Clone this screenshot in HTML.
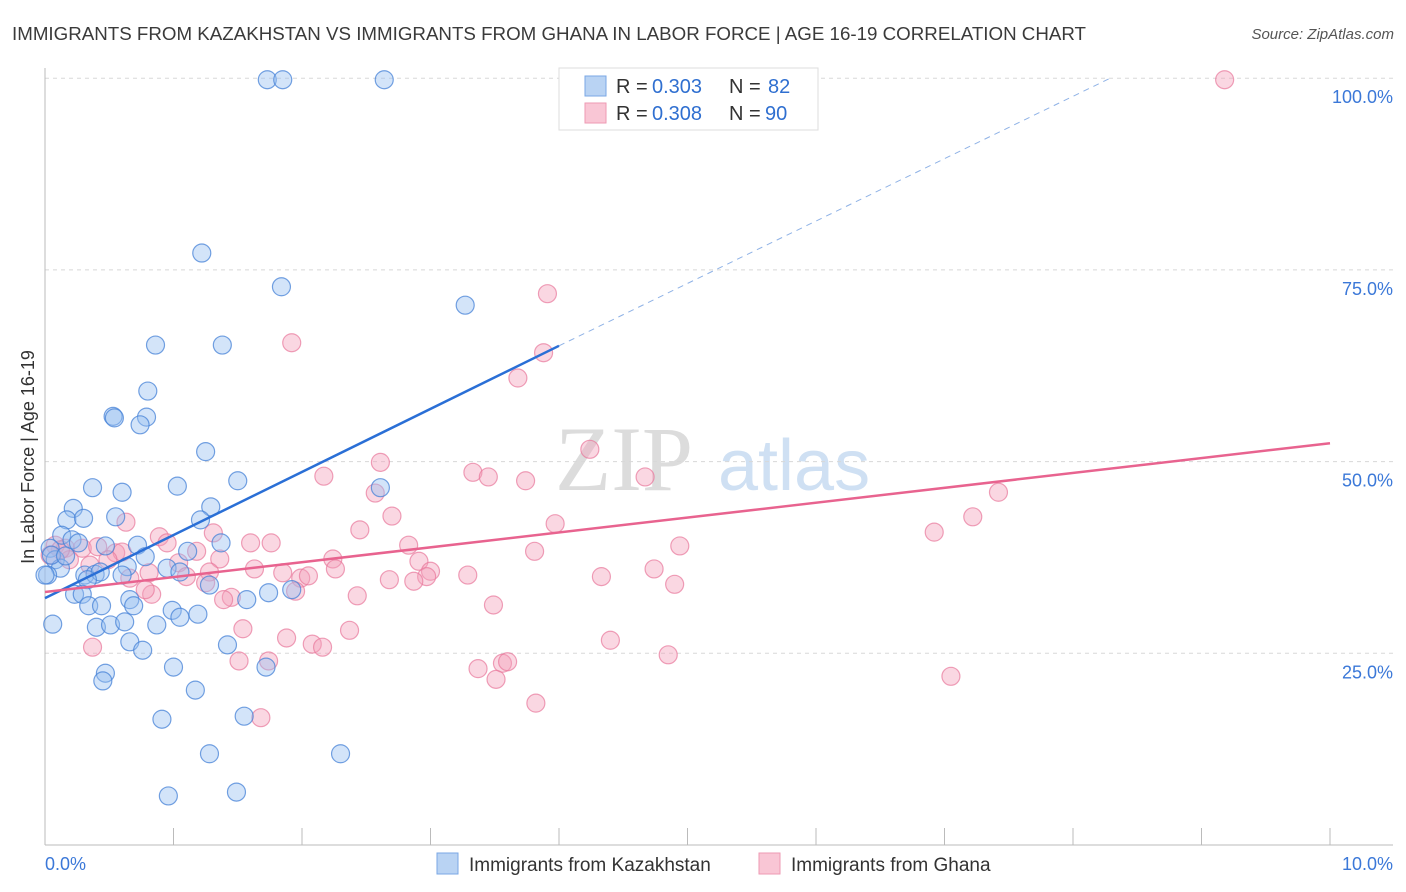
<!DOCTYPE html>
<html><head><meta charset="utf-8"><style>
body{margin:0;background:#fff;font-family:"Liberation Sans",sans-serif;}
svg{display:block}
</style></head><body>
<svg id="chart" width="1406" height="892" viewBox="0 0 1406 892" xmlns="http://www.w3.org/2000/svg" font-family="Liberation Sans, sans-serif">
<text x="12" y="40" font-size="18" fill="#3a3a3a" textLength="1074" lengthAdjust="spacingAndGlyphs">IMMIGRANTS FROM KAZAKHSTAN VS IMMIGRANTS FROM GHANA IN LABOR FORCE | AGE 16-19 CORRELATION CHART</text>
<text x="1394" y="39" font-size="15" fill="#555" text-anchor="end" font-style="italic">Source: ZipAtlas.com</text>
<g>
<text x="555" y="490" font-size="92" fill="#dcdcdc" font-family="Liberation Serif, serif">ZIP</text>
<text x="718" y="490" font-size="72" fill="#cfe0f3">atlas</text>
</g>
<g id="grid"></g>
<g id="axes"></g>
<g id="pts"></g>
<g id="trend"></g>
<g>
<rect x="559" y="68" width="259" height="62" fill="#fff" stroke="#ddd"/>
<rect x="585" y="76" width="21" height="20" fill="#b9d3f3" stroke="#7aa7e4"/>
<rect x="585" y="103" width="21" height="20" fill="#f9c6d5" stroke="#ee9ab3"/>
<text x="616" y="93" font-size="20" fill="#333">R =</text>
<text x="652" y="93" font-size="20" fill="#2f6fd0">0.303</text>
<text x="729" y="93" font-size="20" fill="#333">N =</text>
<text x="768" y="93" font-size="20" fill="#2f6fd0">82</text>
<text x="616" y="120" font-size="20" fill="#333">R =</text>
<text x="652" y="120" font-size="20" fill="#2f6fd0">0.308</text>
<text x="729" y="120" font-size="20" fill="#333">N =</text>
<text x="765" y="120" font-size="20" fill="#2f6fd0">90</text>
</g>
<text transform="translate(34,457) rotate(-90)" font-size="18" fill="#333" text-anchor="middle">In Labor Force | Age 16-19</text>
<g>
<rect x="437" y="853" width="21" height="21" fill="#b9d3f3" stroke="#7aa7e4"/>
<text x="469" y="871" font-size="19" fill="#333">Immigrants from Kazakhstan</text>
<rect x="759" y="853" width="21" height="21" fill="#f9c6d5" stroke="#ee9ab3"/>
<text x="791" y="871" font-size="19" fill="#333">Immigrants from Ghana</text>
</g>
</svg>
<script>
const blueX=[1.73,1.85,2.64,1.22,1.84,3.27,0.86,1.38,0.80,0.53,0.54,0.79,0.74,1.25,1.50,1.03,0.37,0.60,0.22,1.29,0.17,0.30,0.55,1.21,2.61,0.13,0.21,0.26,1.37,0.72,0.47,1.11,0.78,0.04,0.08,0.12,0.02,0.31,0.39,0.43,0.64,0.95,1.05,0.60,0.33,0.23,0.29,0.66,1.28,1.74,1.92,0.34,0.44,0.69,0.99,1.19,1.57,1.05,0.87,0.40,0.51,0.62,0.06,0.66,0.76,1.42,1.72,1.00,0.47,0.45,1.17,0.91,1.55,1.28,2.30,0.96,1.49,0.00,0.05,0.16];
const blueY=[99.8,99.8,99.8,77.2,72.8,70.4,65.2,65.2,59.2,55.9,55.7,55.8,54.8,51.3,47.5,46.8,46.6,46.0,43.9,44.1,42.4,42.6,42.8,42.4,46.6,40.4,39.8,39.4,39.4,39.1,39.0,38.3,37.6,38.7,37.2,36.1,35.2,35.2,35.3,35.6,36.3,36.1,35.6,35.2,34.6,32.7,32.7,32.0,33.9,32.9,33.3,31.2,31.2,31.2,30.6,30.1,32.0,29.7,28.7,28.4,28.7,29.1,28.8,26.5,25.4,26.1,23.2,23.2,22.4,21.4,20.2,16.4,16.8,11.9,11.9,6.4,6.9,35.2,37.8,37.7];
const pinkX=[9.18,3.91,1.92,3.88,3.68,4.24,2.61,2.17,3.33,3.45,4.67,3.74,2.57,7.42,2.70,7.22,3.97,6.92,2.45,0.63,1.31,0.89,1.60,1.76,0.95,2.83,4.94,3.81,1.18,0.08,0.16,0.29,0.41,0.55,0.60,2.24,1.36,1.04,0.81,0.66,1.63,1.85,2.26,2.91,3.00,4.74,1.99,2.05,1.10,1.28,2.97,3.29,4.33,2.87,4.90,1.95,2.43,1.45,0.83,3.49,1.39,1.25,1.54,2.37,1.88,2.08,2.16,4.40,4.85,1.74,1.51,3.37,3.56,3.60,3.51,7.05,3.82,1.68,0.37,0.35,0.19,0.12,0.04,0.49,0.78,2.68];
const pinkY=[99.8,71.9,65.5,64.2,60.9,51.6,49.9,48.1,48.6,48.0,48.0,47.5,45.9,46.0,42.9,42.8,41.9,40.8,41.1,42.1,40.7,40.2,39.4,39.4,39.4,39.1,39.0,38.3,38.3,39.1,38.7,38.7,38.9,38.1,38.2,37.3,37.3,36.8,35.5,34.8,36.0,35.5,36.0,37.0,35.7,36.0,34.8,35.1,35.0,35.6,35.0,35.2,35.0,34.4,34.0,33.1,32.5,32.3,32.7,31.3,32.0,34.2,28.2,28.0,27.0,26.2,25.8,26.7,24.8,24.0,24.0,23.0,23.7,23.9,21.6,22.0,18.5,16.6,25.8,36.5,37.2,38.5,37.8,37.2,33.3,34.6];
const yTicks=[25,50,75,100];
const yTickLabels=["25.0%","50.0%","75.0%","100.0%"];
const xTicks=[0,1,2,3,4,5,6,7,8,9,10];
const blueTrend=[[0,32.2],[4.0,65.1],[8.29,100]];
const pinkTrend=[[0,33.0],[10,52.4]];
const NS="http://www.w3.org/2000/svg";
const X=v=>45+v*128.5, Y=v=>845-v*7.668;
function mk(t,a,p){const e=document.createElementNS(NS,t);for(const k in a)e.setAttribute(k,a[k]);document.getElementById(p).appendChild(e);return e;}
yTicks.forEach((t,i)=>{
 const l=mk('line',{x1:45,x2:1393,y1:Y(t),y2:Y(t),stroke:'#d8d8d8','stroke-dasharray':'4,4'},'grid');
 
 
 const tx=mk('text',{x:1393,y:Y(t)+25,'font-size':18,fill:'#3b78d8','text-anchor':'end'},'grid');
 tx.textContent=yTickLabels[i];
 
 
});
let a=mk('line',{x1:45,x2:45,y1:68,y2:845,stroke:'#bbb'},'axes');


a=mk('line',{x1:45,x2:1393,y1:845,y2:845,stroke:'#bbb'},'axes');


xTicks.slice(1).forEach(t=>{
 const l=mk('line',{x1:X(t),x2:X(t),y1:828,y2:845,stroke:'#bbb'},'axes');
 
 
});
let xl=mk('text',{x:45,y:870,'font-size':18,fill:'#3b78d8'},'axes');xl.textContent='0.0%';


xl=mk('text',{x:1393,y:870,'font-size':18,fill:'#3b78d8','text-anchor':'end'},'axes');xl.textContent='10.0%';


pinkX.forEach((v,i)=>{
 const c=mk('circle',{cx:X(v),cy:Y(pinkY[i]),r:9,fill:'rgba(244,160,185,0.42)',stroke:'rgba(232,120,155,0.7)','stroke-width':1.2},'pts');
 
 
});
blueX.forEach((v,i)=>{
 const c=mk('circle',{cx:X(v),cy:Y(blueY[i]),r:9,fill:'rgba(150,190,240,0.42)',stroke:'rgba(70,130,215,0.75)','stroke-width':1.2},'pts');
 
 
});
let t=mk('line',{x1:X(blueTrend[0][0]),y1:Y(blueTrend[0][1]),x2:X(blueTrend[1][0]),y2:Y(blueTrend[1][1]),stroke:'#2a6fd6','stroke-width':2.5},'trend');


t=mk('line',{x1:X(blueTrend[1][0]),y1:Y(blueTrend[1][1]),x2:X(blueTrend[2][0]),y2:Y(blueTrend[2][1]),stroke:'#8fb2e6','stroke-width':1,'stroke-dasharray':'6,5'},'trend');


t=mk('line',{x1:X(pinkTrend[0][0]),y1:Y(pinkTrend[0][1]),x2:X(pinkTrend[1][0]),y2:Y(pinkTrend[1][1]),stroke:'#e8638f','stroke-width':2.5},'trend');


</script>
</body></html>
